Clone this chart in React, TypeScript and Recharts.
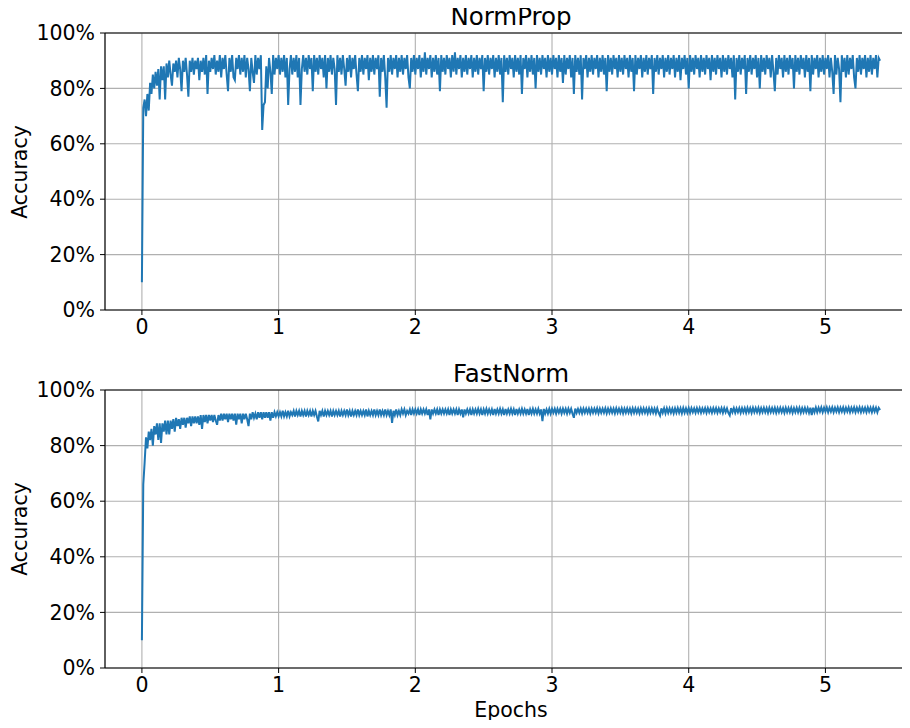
import { LineChart, Line, XAxis, YAxis, CartesianGrid, ReferenceLine } from "recharts";

// epochs between two logged points
const STEP = 0.01;

const X_TICKS = [0, 1, 2, 3, 4, 5];
const Y_TICKS = [0, 20, 40, 60, 80, 100];

// accuracy (%), one row = 0.2 epochs
const NORMPROP_ACC = [
  10, 73, 76, 70, 78, 72, 82, 78, 85, 80, 86, 81, 87, 76, 88, 83, 88, 76, 89, 84,
  90, 85, 81, 89, 86, 90, 84, 91, 87, 79, 90, 86, 91, 85, 77, 90, 86, 91, 85, 90,
  87, 91, 83, 90, 86, 91, 85, 92, 78, 90, 86, 91, 87, 92, 85, 90, 86, 92, 84, 91,
  87, 92, 85, 79, 91, 86, 92, 84, 83, 91, 87, 92, 85, 91, 86, 92, 84, 91, 87, 79,
  91, 86, 82, 92, 85, 91, 87, 92, 65, 74, 75, 88, 80, 91, 86, 78, 92, 85, 91, 87,
  92, 85, 91, 86, 92, 84, 91, 74, 87, 92, 85, 91, 86, 92, 84, 91, 74, 87, 92, 86,
  91, 85, 92, 87, 91, 79, 92, 86, 91, 85, 92, 87, 91, 84, 92, 80, 91, 86, 92, 85,
  91, 87, 74, 92, 86, 91, 85, 92, 87, 81, 91, 86, 92, 84, 91, 87, 92, 85, 79, 91,
  86, 92, 85, 91, 87, 92, 83, 91, 86, 92, 85, 91, 87, 92, 77, 91, 86, 92, 84, 73,
  91, 86, 92, 85, 91, 87, 92, 84, 91, 86, 92, 85, 91, 87, 92, 84, 80, 91, 86, 92,
  85, 91, 87, 92, 84, 91, 86, 93, 85, 91, 87, 92, 84, 91, 86, 92, 85, 91, 79, 92,
  86, 91, 85, 92, 87, 91, 84, 92, 86, 93, 85, 91, 87, 92, 84, 91, 86, 92, 85, 91,
  87, 92, 84, 91, 86, 92, 85, 91, 87, 92, 79, 91, 86, 92, 85, 91, 87, 92, 84, 91,
  86, 92, 85, 91, 75, 92, 86, 91, 85, 92, 87, 91, 84, 92, 86, 91, 85, 92, 78, 91,
  87, 92, 84, 91, 86, 92, 85, 91, 80, 92, 86, 91, 85, 92, 87, 91, 84, 92, 86, 91,
  85, 92, 87, 91, 84, 92, 86, 91, 82, 92, 85, 91, 87, 92, 84, 91, 78, 92, 86, 91,
  85, 92, 76, 91, 87, 92, 84, 91, 86, 92, 85, 91, 87, 92, 84, 91, 86, 92, 85, 91,
  79, 92, 86, 91, 85, 92, 87, 91, 84, 92, 86, 91, 85, 92, 87, 91, 84, 92, 86, 91,
  79, 92, 85, 91, 87, 92, 84, 91, 86, 92, 85, 91, 87, 92, 78, 91, 86, 92, 85, 91,
  87, 92, 84, 91, 86, 92, 85, 91, 87, 92, 84, 91, 86, 92, 83, 91, 87, 92, 85, 91,
  80, 92, 86, 91, 85, 92, 87, 91, 84, 92, 86, 91, 85, 92, 87, 91, 83, 92, 86, 91,
  85, 92, 87, 91, 84, 92, 86, 91, 85, 92, 87, 91, 84, 92, 76, 91, 86, 92, 85, 91,
  87, 92, 78, 91, 86, 92, 85, 91, 87, 92, 84, 91, 80, 92, 86, 91, 85, 92, 87, 91,
  84, 92, 86, 79, 91, 85, 92, 87, 91, 84, 92, 86, 91, 85, 92, 87, 91, 80, 92, 86,
  91, 85, 92, 87, 91, 84, 92, 86, 91, 79, 92, 85, 91, 87, 92, 84, 91, 86, 92, 85,
  91, 87, 92, 84, 91, 86, 78, 92, 85, 91, 87, 75, 92, 86, 91, 84, 92, 85, 91, 87,
  92, 84, 80, 91, 86, 92, 85, 91, 87, 92, 84, 91, 86, 92, 85, 91, 87, 92, 84, 91,
  90,
];

// accuracy (%), one row = 0.2 epochs
const FASTNORM_ACC = [
  10, 66, 74, 83, 79, 85, 82, 86, 80, 87, 84, 88, 82, 88, 81, 88, 85, 89, 84, 89,
  84, 89, 86, 89.5, 85, 90, 87, 89.5, 86, 90, 87.5, 90, 86.5, 90, 88, 90.5, 87, 90.5, 88, 90.5,
  88, 90.5, 87.5, 91, 86, 91, 88.5, 91, 88, 91, 89, 91, 88.5, 91, 89, 87.5, 91, 89, 91.5, 89,
  91.5, 89.5, 91.5, 88.5, 91.5, 89.5, 91.5, 89, 91.5, 87.5, 91.5, 89.5, 91.5, 88, 91.5, 89.5, 91.5, 89.5, 87, 91.5,
  89.5, 92, 90, 91.5, 89.5, 92, 90, 92, 89.5, 92, 90, 92, 90, 92, 89, 92, 90, 92, 90.5, 92,
  90.5, 92, 90.5, 92.5, 90.5, 92, 90.5, 92.5, 90.5, 92, 91, 92.5, 90.5, 92.5, 91, 92.5, 90.5, 92.5, 91, 92.5,
  90.5, 92.5, 91, 92.5, 90.5, 92.5, 91, 92.5, 90.5, 88.7, 92.5, 91, 92.5, 90.5, 92.5, 91, 92.5, 91, 92.5, 90.5,
  92.5, 91, 92.5, 91, 92.5, 90.5, 92.5, 91, 92.5, 91, 93, 91, 92.5, 90.5, 92.5, 91, 92.5, 91, 93, 91,
  92.5, 91, 92.5, 91, 93, 90.5, 92.5, 91, 92.5, 91, 93, 91, 92.5, 91, 93, 91, 92.5, 91, 93, 91,
  92.5, 91, 93, 88.2, 92.5, 91, 93, 91, 92.5, 91, 93, 91.5, 93, 91, 92.5, 91.5, 93, 91, 93, 91.5,
  93, 91.5, 93, 91, 93, 91.5, 93, 91.5, 93, 91, 93, 89.4, 93, 91.5, 93, 91.5, 93, 91, 93, 91.5,
  93, 91.5, 93, 91.5, 93, 91, 93, 91.5, 93, 91.5, 93, 91, 93, 91.5, 93, 90.2, 93, 91.5, 93, 91.5,
  93, 91, 93, 91.5, 93, 91.5, 93.2, 91.5, 93, 91, 93, 91.5, 93.2, 91.5, 93, 91.5, 93, 91, 93.2, 91.5,
  93, 91.5, 93.2, 91.5, 93, 91, 93.2, 91.5, 93, 91.5, 93.2, 91.5, 93, 91, 93.2, 91.5, 93, 91.5, 93.2, 91.5,
  93, 91.5, 93.2, 91, 93, 91.5, 93.2, 91.5, 93, 91.5, 93.2, 91.5, 93, 88.8, 93.2, 91.5, 93, 91.5, 93.2, 91.5,
  93.2, 91.8, 93.2, 91.5, 93.2, 91.8, 93.2, 91.5, 93.3, 91.8, 93.2, 91.5, 93.3, 91.8, 93.2, 91.5, 90, 93.3, 91.8, 93.2,
  91.8, 93.3, 91.6, 93.3, 91.8, 93.3, 91.8, 93.3, 91.6, 93.3, 91.8, 93.3, 91.8, 93.4, 91.6, 93.3, 91.8, 93.3, 91.8, 93.4,
  91.6, 93.3, 91.8, 93.4, 91.8, 93.3, 91.6, 93.4, 91.8, 93.3, 91.8, 93.4, 91.6, 93.3, 91.8, 93.4, 91.8, 93.3, 91.6, 93.4,
  91.8, 93.4, 91.8, 93.3, 91.6, 93.4, 91.8, 93.4, 91.8, 93.3, 91.6, 93.4, 91.8, 93.4, 91.8, 93.3, 91.6, 93.4, 91.8, 90.8,
  93.4, 91.8, 93.4, 91.6, 93.4, 91.8, 93.4, 91.8, 93.3, 91.6, 93.4, 91.8, 93.5, 91.8, 93.4, 91.6, 93.5, 91.8, 93.4, 91.8,
  93.5, 91.8, 93.5, 92, 93.4, 91.8, 93.5, 92, 93.5, 91.8, 93.4, 92, 93.5, 91.8, 93.5, 92, 93.4, 91.8, 93.5, 92,
  93.5, 91.8, 93.4, 92, 93.5, 91.8, 93.5, 92, 93.4, 91.8, 90.9, 93.5, 92, 93.5, 91.8, 93.4, 92, 93.5, 91.8, 93.5,
  92, 93.5, 91.8, 93.6, 92, 93.5, 91.8, 93.6, 92, 93.5, 92, 93.6, 91.8, 93.5, 92, 93.6, 92, 93.5, 91.8, 93.6,
  92, 93.5, 92, 93.6, 91.8, 93.5, 92, 93.6, 92, 93.5, 91.8, 93.6, 92, 93.5, 92, 93.6, 91.8, 93.5, 92, 93.6,
  92, 93.6, 91.8, 93.5, 92, 93.6, 92, 93.5, 91.8, 93.6, 91, 93.6, 92, 93.7, 92, 93.6, 92.2, 93.7, 92, 93.6,
  92.2, 93.7, 92, 93.6, 92.2, 93.7, 92, 93.6, 92.2, 93.7, 92, 93.6, 92.2, 93.7, 92, 93.6, 92.2, 93.7, 92, 93.6,
  92.2, 93.7, 92, 93.6, 92.2, 93.7, 92, 93.6, 92.2, 93.6, 92, 93.7, 92.2, 93.6, 92, 93.7, 92.2, 93.6, 92, 93.6,
  92.8,
];

const FONT = "'DejaVu Sans', 'Liberation Sans', sans-serif";
const BLUE = "#1f77b4";
const GRID = "#b0b0b0";

const toRows = (vals: number[]) =>
  vals.map((v, i) => ({ epoch: +(i * STEP).toFixed(2), acc: v }));

interface PanelProps {
  title: string;
  values: number[];
  top: number;
  marginTop: number;
  marginBottom: number;
}

function Panel({ title, values, top, marginTop, marginBottom }: PanelProps) {
  const rows = toRows(values);
  const plotTop = top + marginTop;
  const plotBottom = top + 364 - marginBottom - 30;
  const titleSize = 24.5;
  return (
    <>
      <div
        style={{
          position: "absolute",
          left: 511,
          // baseline sits about 7.5px above the top spine
          top: plotTop - 7.5 - 0.846 * titleSize,
          transform: "translateX(-50%)",
          fontFamily: FONT,
          fontSize: titleSize,
          lineHeight: 1,
          whiteSpace: "nowrap",
        }}
      >
        {title}
      </div>
      <div
        style={{
          position: "absolute",
          left: 20,
          top: (plotTop + plotBottom) / 2,
          transform: "translate(-50%, -50%) rotate(-90deg)",
          fontFamily: FONT,
          fontSize: 20.5,
          lineHeight: 1,
          whiteSpace: "nowrap",
        }}
      >
        Accuracy
      </div>
      <div style={{ position: "absolute", left: 0, top }}>
        <LineChart
          width={917}
          height={364}
          data={rows}
          margin={{ top: marginTop, right: 0, left: 0, bottom: marginBottom }}
        >
          <CartesianGrid stroke={GRID} strokeWidth={1.1} />
          <XAxis
            dataKey="epoch"
            type="number"
            domain={[-0.27, 5.67]}
            ticks={X_TICKS}
            allowDataOverflow
            interval={0}
            height={30}
            tickSize={5}
            tickMargin={4}
            axisLine={{ stroke: "#000", strokeWidth: 1.1 }}
            tickLine={{ stroke: "#000" }}
            tick={{ fill: "#000", fontSize: 20.5, fontFamily: FONT }}
          />
          <YAxis
            type="number"
            domain={[0, 100]}
            ticks={Y_TICKS}
            interval={0}
            width={105}
            tickSize={5}
            tickMargin={5}
            tickFormatter={(v: number) => `${v}%`}
            axisLine={{ stroke: "#000", strokeWidth: 1.1 }}
            tickLine={{ stroke: "#000" }}
            tick={{ fill: "#000", fontSize: 20.5, fontFamily: FONT }}
          />
          <ReferenceLine y={100} stroke="#000" strokeWidth={1.1} />
          <Line
            type="linear"
            dataKey="acc"
            stroke={BLUE}
            strokeWidth={2}
            dot={false}
            isAnimationActive={false}
          />
        </LineChart>
      </div>
    </>
  );
}

export default function App() {
  return (
    <div
      style={{
        position: "relative",
        margin: -8,
        width: 910,
        height: 728,
        overflow: "hidden",
        background: "#fff",
      }}
    >
      <Panel title="NormProp" values={NORMPROP_ACC} top={0} marginTop={33} marginBottom={24} />
      <Panel title="FastNorm" values={FASTNORM_ACC} top={364} marginTop={26} marginBottom={30} />
      <div
        style={{
          position: "absolute",
          left: 511,
          top: 720,
          transform: "translate(-50%, -100%)",
          fontFamily: FONT,
          fontSize: 20.5,
          lineHeight: 1,
          whiteSpace: "nowrap",
        }}
      >
        Epochs
      </div>
    </div>
  );
}
